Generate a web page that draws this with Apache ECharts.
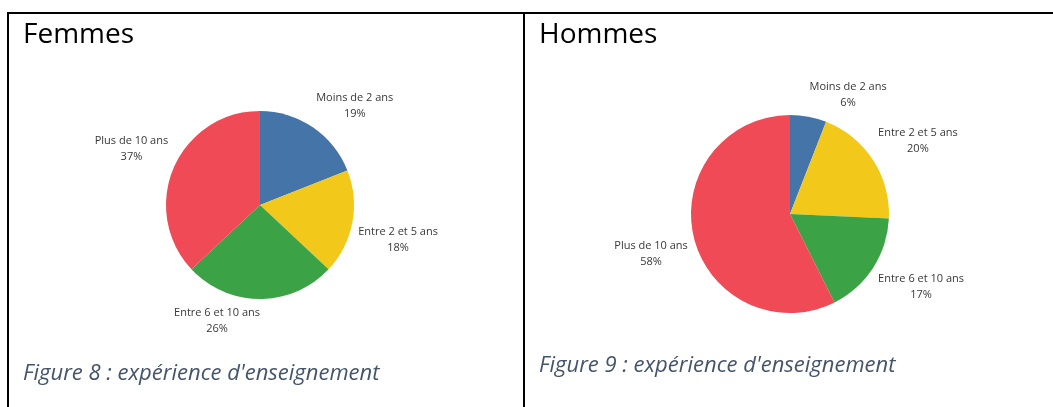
<!DOCTYPE html>
<html>
<head>
<meta charset="utf-8">
<script src="https://cdn.jsdelivr.net/npm/echarts@6/dist/echarts.min.js"></script>
<style>
  html, body { margin: 0; padding: 0; background: #fff; }
  #chart { width: 1053px; height: 407px; }
</style>
</head>
<body>
<div id="chart"></div>
<script>
const categories = ['Moins de 2 ans', 'Entre 2 et 5 ans', 'Entre 6 et 10 ans', 'Plus de 10 ans']
const femmesPct = [19, 18, 26, 37]
const hommesPct = [6, 20, 17, 58]
const panelTitles = ['Femmes', 'Hommes']
const captions = ["Figure 8 : expérience d'enseignement", "Figure 9 : expérience d'enseignement"]

const sliceColors = ['#4575a8', '#f2c81a', '#3ba345', '#ef4a55']

// pie placement (px), one per panel
const pies = [
  { center: [260, 205], radius: 94 },
  { center: [790, 214], radius: 99 },
]

// labels sit just outside the slice, box corner toward the slice (tableau-like)
function makeLabelLayout(values, pie) {
  const total = values.reduce((a, b) => a + b, 0)
  return function (params) {
    const i = params.dataIndex
    let before = 0
    for (let k = 0; k < i; k++) before += values[k]
    const mid = (before + values[i] / 2) / total * Math.PI * 2
    const dx = Math.sin(mid)
    const dy = -Math.cos(mid)
    const w = params.labelRect.width
    const h = params.labelRect.height
    const d = pie.radius + 6
    const sx = dx > 0.01 ? 1 : -1
    const sy = dy > 0 ? 1 : -1
    return {
      x: pie.center[0] + dx * d + sx * w / 2,
      y: pie.center[1] + dy * d + sy * h / 2,
      align: 'center',
      verticalAlign: 'middle',
    }
  }
}

function buildPie(values, pie) {
  return {
    type: 'pie',
    center: pie.center,
    radius: pie.radius,
    startAngle: 90,
    clockwise: true,
    avoidLabelOverlap: false,
    silent: true,
    emphasis: { disabled: true },
    itemStyle: { borderWidth: 0 },
    label: {
      show: true,
      position: 'outside',
      formatter: '{b}\n{c}%',
      color: '#383838',
      fontFamily: '"Open Sans"',
      fontSize: 11,
      lineHeight: 16,
      align: 'center',
    },
    labelLine: { show: false },
    labelLayout: makeLabelLayout(values, pie),
    data: values.map((v, i) => ({
      value: v,
      name: categories[i],
      itemStyle: { color: sliceColors[i] },
    })),
  }
}

const chart = echarts.init(document.getElementById('chart'))
chart.setOption({
  animation: false,
  backgroundColor: '#fff',
  series: [buildPie(femmesPct, pies[0]), buildPie(hommesPct, pies[1])],
  graphic: [
    // table borders
    { type: 'line', shape: { x1: 7, y1: 13, x2: 1053, y2: 13 }, style: { stroke: '#000', lineWidth: 2 } },
    { type: 'line', shape: { x1: 8, y1: 12, x2: 8, y2: 407 }, style: { stroke: '#000', lineWidth: 2 } },
    { type: 'line', shape: { x1: 524, y1: 12, x2: 524, y2: 407 }, style: { stroke: '#000', lineWidth: 2 } },
    // cell titles
    {
      type: 'text', x: 23, y: 35,
      style: { text: panelTitles[0], font: '28px "Open Sans"', fill: '#000', verticalAlign: 'middle' },
    },
    {
      type: 'text', x: 539, y: 35,
      style: { text: panelTitles[1], font: '28px "Open Sans"', fill: '#000', verticalAlign: 'middle' },
    },
    // captions
    {
      type: 'text', x: 23, y: 374,
      style: { text: captions[0], font: 'italic 22px "Open Sans"', fill: '#44546a', verticalAlign: 'middle' },
    },
    {
      type: 'text', x: 539, y: 366,
      style: { text: captions[1], font: 'italic 22px "Open Sans"', fill: '#44546a', verticalAlign: 'middle' },
    },
  ],
})
</script>
</body>
</html>
